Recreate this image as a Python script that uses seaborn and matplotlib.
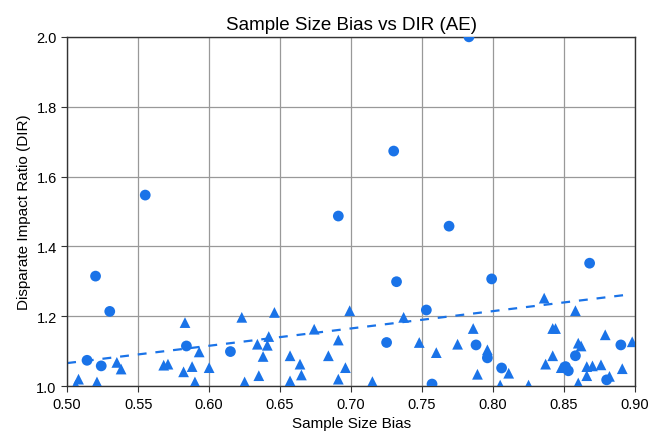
import numpy as np
import pandas as pd
import matplotlib
matplotlib.use("Agg")
import matplotlib.pyplot as plt
import seaborn as sns

# circles
circle_x = [0.514, 0.520, 0.524, 0.530, 0.555, 0.584, 0.615, 0.691, 0.725, 0.730,
            0.732, 0.753, 0.757, 0.769, 0.783, 0.788, 0.796, 0.799, 0.806, 0.851,
            0.853, 0.858, 0.868, 0.880, 0.890]
circle_y = [1.074, 1.315, 1.058, 1.214, 1.547, 1.115, 1.099, 1.487, 1.125, 1.673,
            1.299, 1.218, 1.006, 1.458, 2.000, 1.118, 1.081, 1.307, 1.052, 1.056,
            1.044, 1.087, 1.352, 1.018, 1.118]

# triangles
tri_x = [0.506, 0.508, 0.521, 0.535, 0.538, 0.568, 0.571, 0.582, 0.583, 0.588,
         0.590, 0.593, 0.600, 0.623, 0.625, 0.634, 0.635, 0.638, 0.641, 0.642,
         0.646, 0.657, 0.657, 0.664, 0.665, 0.674, 0.684, 0.691, 0.691, 0.696,
         0.699, 0.715, 0.737, 0.748, 0.760, 0.775, 0.786, 0.789, 0.796, 0.805,
         0.811, 0.825, 0.836, 0.837, 0.842, 0.842, 0.844, 0.848, 0.858, 0.860,
         0.860, 0.862, 0.866, 0.866, 0.870, 0.876, 0.879, 0.882, 0.891, 0.898]
tri_y = [1.003, 1.020, 1.012, 1.068, 1.049, 1.060, 1.063, 1.041, 1.182, 1.056,
         1.012, 1.098, 1.053, 1.197, 1.012, 1.120, 1.030, 1.085, 1.117, 1.142,
         1.211, 1.015, 1.087, 1.063, 1.032, 1.163, 1.087, 1.132, 1.020, 1.053,
         1.216, 1.013, 1.197, 1.125, 1.096, 1.120, 1.165, 1.034, 1.104, 1.003,
         1.037, 1.003, 1.252, 1.063, 1.087, 1.165, 1.165, 1.053, 1.216, 1.123,
         1.009, 1.115, 1.056, 1.030, 1.058, 1.061, 1.147, 1.028, 1.050, 1.127]

# dashed trend line
trend_x = [0.500, 0.893]
trend_y = [1.066, 1.261]

blue = "#1a73e8"

df = pd.DataFrame({
    "bias": circle_x + tri_x,
    "dir": circle_y + tri_y,
    "group": ["circle"] * len(circle_x) + ["triangle"] * len(tri_x),
})

sns.set_style("whitegrid")
plt.rcParams["font.family"] = ["Liberation Sans", "DejaVu Sans"]
plt.rcParams["text.color"] = "black"
plt.rcParams["axes.labelcolor"] = "black"
plt.rcParams["xtick.color"] = "black"
plt.rcParams["ytick.color"] = "black"

fig = plt.figure(figsize=(6.52, 4.35), dpi=100)
ax = fig.add_axes([0.103, 0.110, 0.871, 0.803])

sns.scatterplot(data=df, x="bias", y="dir", style="group",
                markers={"circle": "o", "triangle": "^"},
                color=blue, s=60, linewidth=0, legend=False, ax=ax, zorder=3)
ax.plot(trend_x, trend_y, linestyle=(0, (4, 4)), color=blue, lw=1.6, zorder=2)

ax.set_xlim(0.5, 0.9)
ax.set_ylim(1.0, 2.0)
ax.set_xticks(np.arange(0.5, 0.901, 0.05))
ax.set_yticks(np.arange(1.0, 2.01, 0.2))
ax.xaxis.set_major_formatter(matplotlib.ticker.FormatStrFormatter("%.2f"))
ax.yaxis.set_major_formatter(matplotlib.ticker.FormatStrFormatter("%.1f"))

ax.grid(True, color="#999999", lw=0.9)
for sp in ax.spines.values():
    sp.set_color("#333333")
    sp.set_linewidth(1.0)
ax.tick_params(axis="both", which="major", labelsize=10.5, length=4,
               bottom=True, left=True, color="#333333")

ax.set_title("Sample Size Bias vs DIR (AE)", fontsize=13.5)
ax.set_xlabel("Sample Size Bias", fontsize=11)
ax.set_ylabel("Disparate Impact Ratio (DIR)", fontsize=11)

fig.savefig("out.png", dpi=100)
